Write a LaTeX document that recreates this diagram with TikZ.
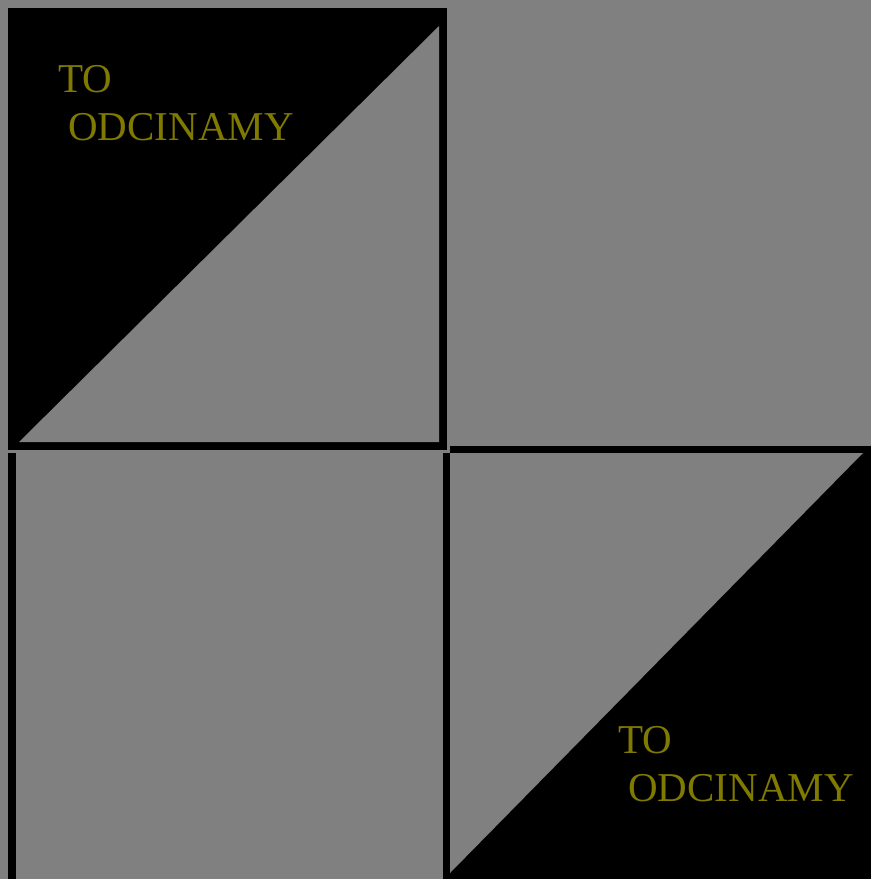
\documentclass[tikz,border=0pt]{standalone}
\usepackage{fontspec}
\setmainfont{Liberation Serif}
\definecolor{bggray}{RGB}{128,128,128}
\definecolor{olivetext}{RGB}{128,122,0}
\begin{document}
\begin{tikzpicture}[x=1pt,y=-1pt,
  lbl/.style={anchor=base west,inner sep=0pt,text=olivetext,font=\fontsize{41}{48}\selectfont}]
\useasboundingbox (0,0) rectangle (871,879);
\fill[bggray] (0,0) rectangle (871,879);
% top-left square
\fill[black] (8,8) rectangle (447,450);
\fill[bggray] (19,442) -- (439,26) -- (439,442) -- cycle;
% bottom-left bar
\fill[black] (8,453) rectangle (16,879);
% bottom-right square
\fill[black] (450,446) rectangle (871,453);
\fill[black] (443,453) rectangle (450,879);
\fill[black] (450,453) rectangle (871,879);
\fill[bggray] (450,453) -- (863,453) -- (450,873) -- cycle;
% labels
\node[lbl] (a1) at (58,92) {TO};
\node[lbl] (a2) at (68,140) {ODCINAMY};
\node[lbl] (b1) at (618,753) {TO};
\node[lbl] (b2) at (628,801) {ODCINAMY};
\end{tikzpicture}
\end{document}
